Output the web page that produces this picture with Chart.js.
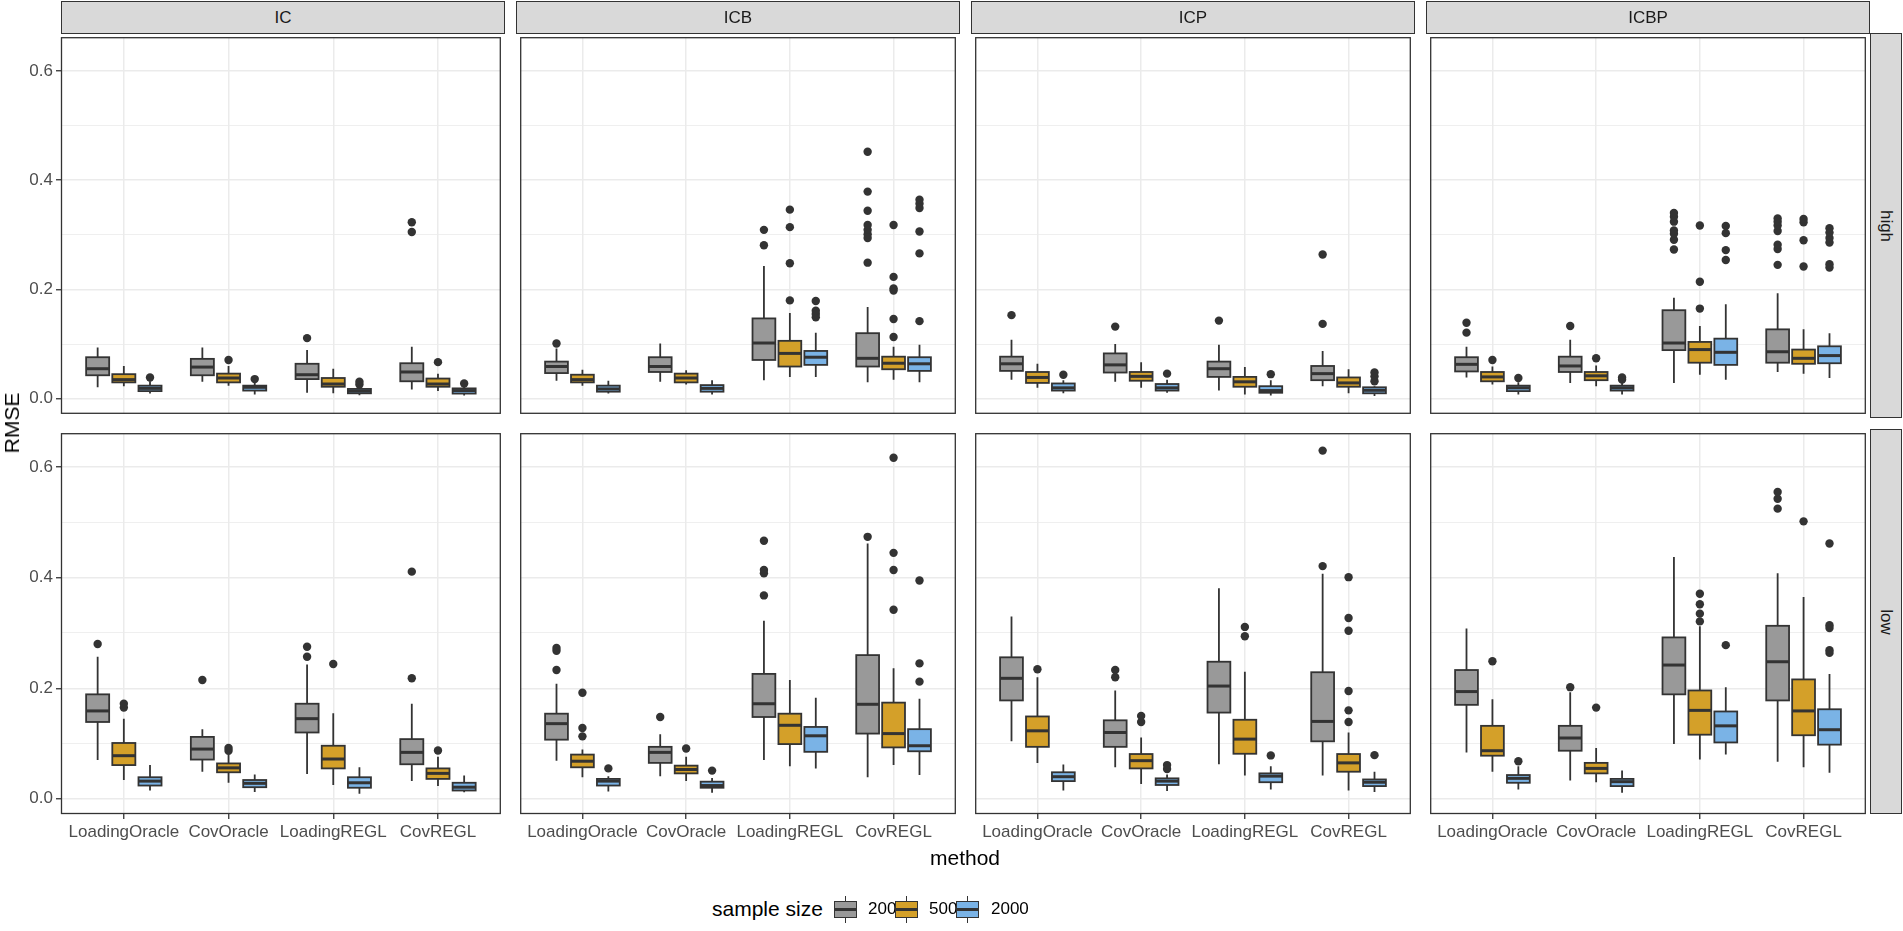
<!DOCTYPE html>
<html>
<head>
<meta charset="utf-8">
<script src="https://cdn.jsdelivr.net/npm/chart.js@4.4.1/dist/chart.umd.min.js"></script>
<style>
body{margin:0;background:#fff;width:1903px;height:931px;overflow:hidden;position:relative;font-family:"Liberation Sans",Arial,sans-serif}
canvas{position:absolute}
.strip{position:absolute;background:#d9d9d9;border:1.3px solid #333;box-sizing:border-box;color:#1a1a1a;font-size:17px;display:flex;align-items:center;justify-content:center}
.vstrip span{display:block;transform:rotate(90deg);white-space:nowrap}
.title{position:absolute;font-size:21px;color:#000;white-space:nowrap}
.key{position:absolute;width:33px;height:33px}
.key .wh{position:absolute;left:15.5px;top:3px;width:1.8px;height:27px;background:#333}
.key .bx{position:absolute;left:5px;top:8px;width:23px;height:17px;border:1.8px solid #333;box-sizing:border-box}
.key .md{position:absolute;left:5px;top:15px;width:23px;height:3px;background:#333}
.klab{position:absolute;font-size:17px;color:#000}
</style>
</head>
<body>
<script>
// facets and groups
const designs = ["IC", "ICB", "ICP", "ICBP"];
const levels = ["high", "low"];
const methods = ["LoadingOracle", "CovOracle", "LoadingREGL", "CovREGL"];
const sizes = ["200", "500", "2000"];
const sizeColors = ["#999999", "#D4A029", "#7AB3E6"];
const yTicks = [0, 0.1, 0.2, 0.3, 0.4, 0.5, 0.6];

// each entry: [lower whisker, q1, median, q3, upper whisker, outliers]
// order: method by method, sizes 200 / 500 / 2000
const IC_high = [
  [0.021, 0.043, 0.055, 0.076, 0.094, []],
  [0.023, 0.030, 0.035, 0.045, 0.060, []],
  [0.0095, 0.014, 0.019, 0.024, 0.032, [0.039]],
  [0.031, 0.043, 0.058, 0.073, 0.094, []],
  [0.024, 0.030, 0.038, 0.046, 0.060, [0.071]],
  [0.008, 0.015, 0.021, 0.024, 0.029, [0.036]],
  [0.011, 0.036, 0.044, 0.064, 0.089, [0.111]],
  [0.010, 0.022, 0.027, 0.038, 0.055, []],
  [0.0065, 0.010, 0.014, 0.018, 0.020, [0.026, 0.031]],
  [0.017, 0.032, 0.049, 0.065, 0.095, [0.305, 0.323]],
  [0.014, 0.022, 0.027, 0.037, 0.046, [0.067]],
  [0.006, 0.0095, 0.015, 0.019, 0.023, [0.028]]
];
const ICB_high = [
  [0.033, 0.047, 0.059, 0.068, 0.092, [0.101]],
  [0.024, 0.030, 0.035, 0.044, 0.053, []],
  [0.0095, 0.013, 0.018, 0.024, 0.033, []],
  [0.031, 0.049, 0.059, 0.076, 0.101, []],
  [0.026, 0.030, 0.038, 0.046, 0.052, []],
  [0.008, 0.013, 0.019, 0.025, 0.034, []],
  [0.034, 0.071, 0.102, 0.147, 0.243, [0.281, 0.309]],
  [0.040, 0.059, 0.083, 0.106, 0.157, [0.180, 0.248, 0.314, 0.346]],
  [0.040, 0.062, 0.076, 0.0875, 0.121, [0.149, 0.155, 0.161, 0.179]],
  [0.030, 0.059, 0.074, 0.120, 0.168, [0.249, 0.294, 0.301, 0.309, 0.318, 0.344, 0.379, 0.452]],
  [0.035, 0.054, 0.065, 0.077, 0.095, [0.113, 0.146, 0.198, 0.202, 0.223, 0.318]],
  [0.030, 0.051, 0.064, 0.076, 0.099, [0.142, 0.266, 0.306, 0.349, 0.357, 0.364]]
];
const ICP_high = [
  [0.035, 0.051, 0.064, 0.077, 0.108, [0.153]],
  [0.020, 0.029, 0.039, 0.049, 0.064, []],
  [0.010, 0.015, 0.020, 0.028, 0.034, [0.044]],
  [0.031, 0.048, 0.062, 0.083, 0.100, [0.132]],
  [0.020, 0.033, 0.041, 0.049, 0.067, []],
  [0.011, 0.015, 0.020, 0.027, 0.035, [0.046]],
  [0.015, 0.040, 0.055, 0.068, 0.099, [0.143]],
  [0.008, 0.022, 0.031, 0.040, 0.058, []],
  [0.006, 0.011, 0.015, 0.023, 0.034, [0.045]],
  [0.023, 0.034, 0.046, 0.060, 0.0875, [0.137, 0.264]],
  [0.010, 0.022, 0.029, 0.039, 0.054, []],
  [0.005, 0.010, 0.0155, 0.021, 0.023, [0.032, 0.041, 0.048]]
];
const ICBP_high = [
  [0.039, 0.050, 0.063, 0.076, 0.095, [0.121, 0.139]],
  [0.026, 0.032, 0.040, 0.049, 0.059, [0.071]],
  [0.008, 0.014, 0.020, 0.024, 0.030, [0.038]],
  [0.029, 0.049, 0.060, 0.077, 0.108, [0.133]],
  [0.023, 0.034, 0.042, 0.049, 0.061, [0.074]],
  [0.008, 0.015, 0.020, 0.024, 0.029, [0.035, 0.039]],
  [0.029, 0.089, 0.102, 0.162, 0.185, [0.273, 0.291, 0.302, 0.308, 0.324, 0.333, 0.340]],
  [0.044, 0.066, 0.090, 0.104, 0.133, [0.165, 0.214, 0.317]],
  [0.035, 0.062, 0.085, 0.110, 0.173, [0.254, 0.272, 0.303, 0.316]],
  [0.049, 0.066, 0.086, 0.127, 0.193, [0.245, 0.274, 0.282, 0.307, 0.317, 0.324, 0.330]],
  [0.046, 0.064, 0.074, 0.090, 0.127, [0.242, 0.290, 0.323, 0.329]],
  [0.038, 0.065, 0.079, 0.096, 0.120, [0.240, 0.246, 0.286, 0.294, 0.304, 0.312]]
];
const IC_low = [
  [0.070, 0.139, 0.159, 0.189, 0.257, [0.280]],
  [0.034, 0.061, 0.078, 0.101, 0.145, [0.165, 0.172]],
  [0.015, 0.024, 0.032, 0.039, 0.061, []],
  [0.049, 0.071, 0.090, 0.112, 0.126, [0.215]],
  [0.029, 0.048, 0.056, 0.064, 0.080, [0.087, 0.092]],
  [0.0125, 0.021, 0.028, 0.034, 0.044, []],
  [0.045, 0.120, 0.145, 0.172, 0.243, [0.257, 0.275]],
  [0.025, 0.055, 0.072, 0.096, 0.155, [0.244]],
  [0.009, 0.020, 0.029, 0.039, 0.057, []],
  [0.032, 0.0625, 0.084, 0.108, 0.172, [0.218, 0.411]],
  [0.023, 0.036, 0.046, 0.055, 0.076, [0.0875]],
  [0.012, 0.015, 0.021, 0.029, 0.042, []]
];
const ICB_low = [
  [0.069, 0.107, 0.136, 0.154, 0.208, [0.233, 0.268, 0.273]],
  [0.039, 0.057, 0.068, 0.080, 0.089, [0.113, 0.128, 0.192]],
  [0.013, 0.024, 0.032, 0.036, 0.041, [0.055]],
  [0.041, 0.065, 0.084, 0.094, 0.117, [0.148]],
  [0.032, 0.046, 0.053, 0.060, 0.076, [0.091]],
  [0.011, 0.020, 0.024, 0.031, 0.0375, [0.051]],
  [0.070, 0.148, 0.172, 0.226, 0.322, [0.368, 0.408, 0.414, 0.467]],
  [0.059, 0.099, 0.133, 0.154, 0.215, []],
  [0.055, 0.085, 0.114, 0.130, 0.183, []],
  [0.039, 0.118, 0.171, 0.260, 0.462, [0.474]],
  [0.061, 0.093, 0.118, 0.174, 0.236, [0.342, 0.414, 0.445, 0.617]],
  [0.043, 0.086, 0.096, 0.126, 0.181, [0.212, 0.245, 0.395]]
];
const ICP_low = [
  [0.104, 0.178, 0.218, 0.256, 0.330, []],
  [0.065, 0.094, 0.123, 0.149, 0.220, [0.2345]],
  [0.015, 0.032, 0.040, 0.048, 0.062, []],
  [0.057, 0.094, 0.120, 0.142, 0.196, [0.220, 0.233]],
  [0.027, 0.055, 0.069, 0.081, 0.111, [0.139, 0.150]],
  [0.014, 0.025, 0.032, 0.037, 0.044, [0.054, 0.061]],
  [0.0625, 0.156, 0.204, 0.248, 0.381, []],
  [0.042, 0.0815, 0.108, 0.143, 0.230, [0.294, 0.311]],
  [0.017, 0.030, 0.041, 0.046, 0.059, [0.0785]],
  [0.042, 0.104, 0.140, 0.229, 0.407, [0.421, 0.630]],
  [0.015, 0.049, 0.065, 0.081, 0.120, [0.139, 0.160, 0.195, 0.304, 0.327, 0.401]],
  [0.0125, 0.023, 0.030, 0.035, 0.049, [0.079]]
];
const ICBP_low = [
  [0.084, 0.170, 0.194, 0.233, 0.308, []],
  [0.049, 0.078, 0.087, 0.132, 0.180, [0.249]],
  [0.017, 0.029, 0.037, 0.043, 0.059, [0.068]],
  [0.033, 0.087, 0.110, 0.132, 0.193, [0.202]],
  [0.030, 0.046, 0.055, 0.065, 0.092, [0.165]],
  [0.011, 0.023, 0.031, 0.036, 0.051, []],
  [0.099, 0.189, 0.242, 0.292, 0.4375, []],
  [0.071, 0.116, 0.160, 0.196, 0.312, [0.321, 0.335, 0.352, 0.371]],
  [0.080, 0.102, 0.132, 0.158, 0.202, [0.278]],
  [0.067, 0.178, 0.248, 0.313, 0.408, [0.525, 0.543, 0.555]],
  [0.057, 0.115, 0.159, 0.216, 0.365, [0.502]],
  [0.047, 0.098, 0.125, 0.162, 0.226, [0.264, 0.269, 0.309, 0.314, 0.462]]
];

const panelData = [
  [IC_high, ICB_high, ICP_high, ICBP_high],
  [IC_low, ICB_low, ICP_low, ICBP_low]
];

// page geometry
const colLeft = [61, 516, 971, 1426];
const panelW = 444;
const rowTop = [33, 429];
const panelH = 385;
const yAxisW = 61;
const xAxisH = 40;
const dodge = [-0.25, 0, 0.25];
const boxHalf = 0.11;

Chart.defaults.font.family = '"Liberation Sans", Arial, sans-serif';
Chart.defaults.animation = false;

function isMajor(v) {
  return Math.round(v * 10) % 2 === 0;
}

// no label overhang padding, panels must keep the exact size
function noPad(sc) {
  sc.paddingTop = 0; sc.paddingBottom = 0;
  sc.paddingLeft = 0; sc.paddingRight = 0;
}

function boxPlugin(stats) {
  return {
    id: "boxes",
    beforeDatasetsDraw(chart) {
      const { ctx } = chart;
      const x = chart.scales.x, y = chart.scales.y;
      const hw = x.getPixelForValue(1 + boxHalf) - x.getPixelForValue(1);
      ctx.save();
      ctx.strokeStyle = "#333333";
      stats.forEach((st, k) => {
        const m = Math.floor(k / 3), s = k % 3;
        const xc = x.getPixelForValue(m + 1 + dodge[s]);
        const lo = y.getPixelForValue(st[0]);
        const q1 = y.getPixelForValue(st[1]);
        const md = y.getPixelForValue(st[2]);
        const q3 = y.getPixelForValue(st[3]);
        const hi = y.getPixelForValue(st[4]);
        ctx.lineWidth = 1.8;
        ctx.beginPath();
        ctx.moveTo(xc, hi); ctx.lineTo(xc, q3);
        ctx.moveTo(xc, q1); ctx.lineTo(xc, lo);
        ctx.stroke();
        ctx.fillStyle = sizeColors[s];
        ctx.fillRect(xc - hw, q3, 2 * hw, q1 - q3);
        ctx.strokeRect(xc - hw, q3, 2 * hw, q1 - q3);
        ctx.lineWidth = 3;
        ctx.beginPath();
        ctx.moveTo(xc - hw, md); ctx.lineTo(xc + hw, md);
        ctx.stroke();
      });
      ctx.restore();
    },
    afterDraw(chart) {
      const { ctx, chartArea: a } = chart;
      ctx.save();
      ctx.strokeStyle = "#333333";
      ctx.lineWidth = 1.3;
      ctx.strokeRect(a.left + 0.5, a.top + 0.5, a.width - 1, a.height - 1);
      ctx.restore();
    }
  };
}

function makePanel(row, col) {
  const stats = panelData[row][col];
  const left = col === 0 ? 0 : colLeft[col];
  const w = col === 0 ? yAxisW + panelW : panelW;
  const h = row === 1 ? panelH + xAxisH : panelH;
  const cv = document.createElement("canvas");
  cv.width = w; cv.height = h;
  cv.style.left = left + "px"; cv.style.top = rowTop[row] + "px";
  cv.style.width = w + "px"; cv.style.height = h + "px";
  document.body.appendChild(cv);

  const datasets = sizes.map((sz, s) => {
    const pts = [];
    stats.forEach((st, k) => {
      if (k % 3 !== s) return;
      const m = Math.floor(k / 3);
      st[5].forEach(v => pts.push({ x: m + 1 + dodge[s], y: v }));
    });
    return {
      label: sz,
      data: pts,
      pointRadius: 4.2,
      pointBackgroundColor: "#333333",
      pointBorderWidth: 0
    };
  });

  new Chart(cv, {
    type: "scatter",
    data: { datasets },
    options: {
      responsive: false,
      layout: { padding: 0 },
      plugins: { legend: { display: false }, tooltip: { enabled: false } },
      scales: {
        x: {
          type: "linear", min: 0.4, max: 4.6,
          afterBuildTicks: sc => { sc.ticks = methods.map((_, i) => ({ value: i + 1 })); },
          afterFit: sc => { sc.height = row === 1 ? xAxisH : 0; noPad(sc); },
          border: { display: false },
          grid: { color: "#ebebeb", lineWidth: 1.5, drawTicks: row === 1, tickLength: 5, tickColor: "#333333", tickWidth: 1.3 },
          ticks: {
            display: row === 1, autoSkip: false, maxRotation: 0, padding: 3,
            color: "#4d4d4d", font: { size: 17 },
            callback: v => methods[v - 1]
          }
        },
        y: {
          type: "linear", min: -0.0275, max: 0.6615,
          afterBuildTicks: sc => { sc.ticks = yTicks.map(v => ({ value: v })); },
          afterFit: sc => { sc.width = col === 0 ? yAxisW : 0; noPad(sc); },
          border: { display: false },
          grid: {
            color: "#ebebeb",
            lineWidth: c => (c.tick && !isMajor(c.tick.value)) ? 0.8 : 1.5,
            drawTicks: col === 0, tickLength: 5, tickWidth: 1.3,
            tickColor: c => (c.tick && isMajor(c.tick.value)) ? "#333333" : "rgba(0,0,0,0)"
          },
          ticks: {
            display: col === 0, padding: 3, color: "#4d4d4d", font: { size: 17 },
            callback: v => isMajor(v) ? v.toFixed(1) : ""
          }
        }
      }
    },
    plugins: [boxPlugin(stats)]
  });
}

for (let r = 0; r < 2; r++) for (let c = 0; c < 4; c++) makePanel(r, c);

function addDiv(cls, html, style) {
  const d = document.createElement("div");
  d.className = cls;
  d.innerHTML = html;
  Object.assign(d.style, style);
  document.body.appendChild(d);
  return d;
}

// facet strips
designs.forEach((d, c) => {
  addDiv("strip", d, { left: colLeft[c] + "px", top: "1px", width: panelW + "px", height: "33px" });
});
levels.forEach((lv, r) => {
  addDiv("strip vstrip", "<span>" + lv + "</span>", { left: "1870px", top: rowTop[r] + "px", width: "32px", height: panelH + "px" });
});

// axis titles
const rmse = addDiv("title", "RMSE", { left: "12px", top: "423px" });
rmse.style.transform = "translate(-50%,-50%) rotate(-90deg)";
const meth = addDiv("title", "method", { left: "965px", top: "858px" });
meth.style.transform = "translate(-50%,-50%)";

// legend
const lt = addDiv("title", "sample size", { left: "712px", top: "909px" });
lt.style.transform = "translateY(-50%)";
const keyLeft = [829, 890, 951];
const labLeft = [868, 929, 991];
sizes.forEach((sz, s) => {
  addDiv("key", '<div class="wh"></div><div class="bx" style="background:' + sizeColors[s] + '"></div><div class="md"></div>',
    { left: keyLeft[s] + "px", top: "893px" });
  const l = addDiv("klab", sz, { left: labLeft[s] + "px", top: "909px" });
  l.style.transform = "translateY(-50%)";
});
</script>
</body>
</html>
